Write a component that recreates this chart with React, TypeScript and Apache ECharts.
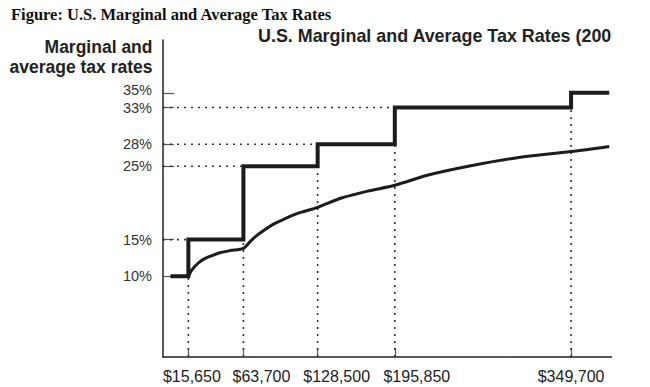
import React, { useEffect, useRef } from "react";
import * as echarts from "echarts";

// ---- data ----
const bracketStarts = [0, 15650, 63700, 128500, 195850, 349700];
const marginalRates = [10, 15, 25, 28, 33, 35];
const incomeEnd = 383000;

const avgIncomes = [15650, 18000, 21000, 25000, 30000, 36000, 43000, 52000, 63700, 70000, 75000, 82000, 90000, 98000, 108000, 118000, 128500, 150000, 172000, 195850, 225000, 260000, 300000, 349700, 383000];
const avgRates = [10.0, 10.7, 11.3, 11.9, 12.4, 12.8, 13.2, 13.5, 13.8, 14.8, 15.5, 16.3, 17.1, 17.7, 18.4, 18.9, 19.4, 20.7, 21.6, 22.4, 23.8, 25.0, 26.1, 27.0, 27.7];

const xTickValues = [15650, 63700, 128500, 195850, 349700];
const yTickValues = [10, 15, 25, 28, 33, 35];

const figureTitle = "Figure: U.S. Marginal and Average Tax Rates";
const chartTitle = "U.S. Marginal and Average Tax Rates (2007)";
const yAxisName = "Marginal and\naverage tax rates";

// layout / style constants
const X_MIN = -6500;
const X_MAX = 385000;
const Y_MIN = -1;
const Y_MAX = 42.2;
// the reference's x labels sit to the right of their ticks by these amounts (px)
const xLabelShiftPx = [3.5, 18, 19, 22, 0];
// the reference's y labels sit above their ticks by these amounts (px)
const yLabelLiftPx = [0, 0, 0, 0, 0, 3];

const SANS = '"Liberation Sans", Arial, Helvetica, sans-serif';
const SERIF = '"Liberation Serif", "Times New Roman", serif';
const INK = "#1c1c1c";

function fmtMoney(v: number) {
  return "$" + v.toLocaleString("en-US");
}

export default function App() {
  const ref = useRef<HTMLDivElement>(null);

  useEffect(() => {
    if (!ref.current) return;
    const chart = echarts.init(ref.current, null, { renderer: "svg" });

    const dotted = {
      type: [2, 5] as number[],
      width: 1.6,
      color: "#333",
    };

    const series: any[] = [];

    // vertical dotted guides: from the x axis up to the lower bracket's rate
    for (let i = 1; i < bracketStarts.length; i++) {
      series.push({
        type: "line",
        data: [
          [bracketStarts[i], Y_MIN],
          [bracketStarts[i], marginalRates[i - 1]],
        ],
        symbol: "none",
        lineStyle: dotted,
        silent: true,
        z: 1,
      });
    }
    // horizontal dotted guides: from the y axis to the start of that bracket
    for (let i = 1; i < bracketStarts.length - 1; i++) {
      series.push({
        type: "line",
        data: [
          [X_MIN, marginalRates[i]],
          [bracketStarts[i], marginalRates[i]],
        ],
        symbol: "none",
        lineStyle: dotted,
        silent: true,
        z: 1,
      });
    }

    // average tax rate curve
    series.push({
      type: "line",
      data: avgIncomes.map((x, i) => [x, avgRates[i]]),
      symbol: "none",
      smooth: 0.3,
      lineStyle: { width: 3, color: INK },
      z: 3,
    });

    // marginal tax rate step line
    const stepData = bracketStarts.map((x, i) => [x, marginalRates[i]]);
    stepData.push([incomeEnd, marginalRates[marginalRates.length - 1]]);
    series.push({
      type: "line",
      data: stepData,
      step: "end",
      symbol: "none",
      lineStyle: { width: 4, color: INK, join: "miter" },
      z: 4,
    });

    const xRich: Record<string, any> = {};
    xTickValues.forEach((_, i) => {
      xRich["s" + i] = {
        fontSize: 16,
        fontFamily: SANS,
        color: "#222",
        padding: [0, 0, 0, xLabelShiftPx[i] * 2],
      };
    });

    const yRich: Record<string, any> = {};
    yTickValues.forEach((_, i) => {
      yRich["y" + i] = {
        fontSize: 14.5,
        lineHeight: 13,
        fontFamily: SANS,
        color: "#333",
        padding: [0, 0, yLabelLiftPx[i] * 2, 0],
      };
    });

    // y ticks alternate between two overlaid axes so close labels are never dropped
    const yTicksA = yTickValues.filter((_, i) => i % 2 === 0);
    const yTicksB = yTickValues.filter((_, i) => i % 2 === 1);
    const makeY = (vals: number[], showLine: boolean) => ({
      type: "value",
      position: "left",
      min: Y_MIN,
      max: Y_MAX,
      axisLine: { show: showLine, onZero: false, lineStyle: { color: "#222", width: 1.5 } },
      axisTick: {
        show: true,
        inside: true,
        length: 11,
        customValues: vals,
        lineStyle: { color: "#555", width: 1.2 },
      },
      axisLabel: {
        customValues: vals,
        showMinLabel: true,
        showMaxLabel: true,
        formatter: (v: number) => {
          const i = yTickValues.indexOf(v);
          return i >= 0 ? `{y${i}|${v}%}` : v + "%";
        },
        rich: yRich,
        margin: 11,
        fontSize: 14.5,
        lineHeight: 13,
        fontFamily: SANS,
        color: "#333",
      },
      splitLine: { show: false },
    });

    chart.setOption({
      animation: false,
      backgroundColor: "#ffffff",
      grid: { left: 163, right: 38.5, top: 40, bottom: 30, containLabel: false },
      xAxis: {
        type: "value",
        min: X_MIN,
        max: X_MAX,
        axisLine: { show: true, onZero: false, lineStyle: { color: "#222", width: 1.5 } },
        axisTick: {
          show: true,
          inside: true,
          length: 9,
          customValues: xTickValues,
          lineStyle: { color: "#555", width: 1.2 },
        },
        axisLabel: {
          customValues: xTickValues,
          showMinLabel: true,
          showMaxLabel: true,
          formatter: (v: number) => {
            const i = xTickValues.indexOf(v);
            return i >= 0 ? `{s${i}|${fmtMoney(v)}}` : fmtMoney(v);
          },
          rich: xRich,
          margin: 11,
          fontSize: 16,
          fontFamily: SANS,
          color: "#222",
        },
        splitLine: { show: false },
      },
      yAxis: [makeY(yTicksA, true), makeY(yTicksB, false)],
      graphic: [
        {
          type: "text",
          x: 11,
          y: 14.5,
          style: {
            text: figureTitle,
            font: `bold 16.5px ${SERIF}`,
            fill: "#111",
            align: "left",
            verticalAlign: "middle",
          },
        },
        {
          type: "text",
          x: 258,
          y: 36,
          z: 10,
          style: {
            text: chartTitle,
            font: `bold 17.9px ${SANS}`,
            fill: "#222",
            align: "left",
            verticalAlign: "middle",
          },
        },
        {
          type: "rect",
          z: 20,
          shape: { x: 612, y: 22, width: 38, height: 28 },
          style: { fill: "#ffffff" },
        },
        {
          type: "text",
          x: 152.5,
          y: 57,
          style: {
            text: yAxisName,
            font: `bold 17.5px ${SANS}`,
            lineHeight: 20.5,
            fill: "#222",
            align: "right",
            verticalAlign: "middle",
          },
        },
      ],
      series,
    });

    return () => chart.dispose();
  }, []);

  return (
    <div
      ref={ref}
      style={{ position: "fixed", left: 0, top: 0, width: 650, height: 387, background: "#fff" }}
    />
  );
}
